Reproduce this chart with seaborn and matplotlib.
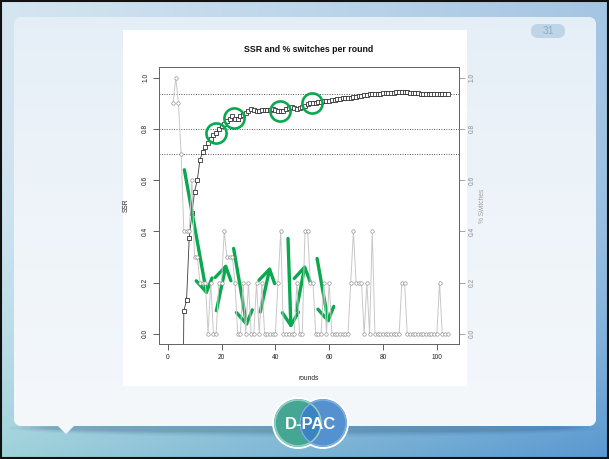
import numpy as np
import pandas as pd
import matplotlib
matplotlib.use("Agg")
import matplotlib.pyplot as plt
from matplotlib.patches import FancyBboxPatch, Rectangle, Polygon, Circle, Ellipse
import seaborn as sns

# ---------------------------------------------------------------- data
rounds = list(range(1, 105))

# scale separation reliability after each round (rounds 1-4 not computed)
ssr = [np.nan, np.nan, np.nan, np.nan, -1.2,
       0.09, 0.13, 0.375, 0.47, 0.555, 0.60, 0.68, 0.71, 0.73, 0.745,
       0.76, 0.775, 0.785, 0.80, 0.81, 0.82, 0.83, 0.84, 0.848, 0.838,
       0.84, 0.848, 0.855, 0.862, 0.87, 0.876, 0.874, 0.868, 0.87, 0.872,
       0.875, 0.872, 0.874, 0.878, 0.872, 0.868, 0.868, 0.87, 0.876, 0.88,
       0.884, 0.882, 0.878, 0.88, 0.886, 0.89, 0.896, 0.90, 0.902, 0.902,
       0.904, 0.906, 0.908, 0.908, 0.91, 0.912, 0.914, 0.916, 0.918, 0.92,
       0.92, 0.922, 0.922, 0.924, 0.926, 0.928, 0.928, 0.93, 0.932, 0.934,
       0.934, 0.936, 0.936, 0.937, 0.938, 0.938, 0.94, 0.94, 0.941, 0.942,
       0.943, 0.944, 0.944, 0.942, 0.94, 0.94, 0.938, 0.938, 0.937, 0.937,
       0.937, 0.937, 0.937, 0.937, 0.937, 0.937, 0.937, 0.937, 0.937]

# share of judgements that switched relative to the previous round
switches = [np.nan, 0.9, 1.0, 0.9, 0.7,
            0.4, 0.4, 0.4, 0.6, 0.3, 0.3, 0.2, 0.2, 0.2, 0.0,
            0.2, 0.0, 0.0, 0.2, 0.2, 0.4, 0.3, 0.3, 0.3, 0.2,
            0.0, 0.0, 0.2, 0.0, 0.2, 0.0, 0.0, 0.2, 0.0, 0.2,
            0.0, 0.0, 0.0, 0.0, 0.0, 0.2, 0.4, 0.0, 0.0, 0.0,
            0.0, 0.0, 0.2, 0.0, 0.0, 0.4, 0.4, 0.2, 0.2, 0.0,
            0.0, 0.0, 0.2, 0.0, 0.2, 0.0, 0.0, 0.0, 0.0, 0.0,
            0.0, 0.0, 0.2, 0.4, 0.2, 0.2, 0.2, 0.0, 0.2, 0.0,
            0.4, 0.0, 0.0, 0.0, 0.0, 0.0, 0.0, 0.0, 0.0, 0.0,
            0.0, 0.2, 0.2, 0.0, 0.0, 0.0, 0.0, 0.0, 0.0, 0.0,
            0.0, 0.0, 0.0, 0.0, 0.0, 0.2, 0.0, 0.0, 0.0]

reference_levels = [0.7, 0.8, 0.937]
x_ticks = [0, 20, 40, 60, 80, 100]
y_ticks = [0.0, 0.2, 0.4, 0.6, 0.8, 1.0]
y_ticklabels = ["0.0", "0.2", "0.4", "0.6", "0.8", "1.0"]

title = "SSR and % switches per round"
slide_number = "31"
logo_text = "D-PAC"

# highlighted rounds on the SSR curve and hand-drawn arrows on the switches
circled_rounds = [18, 24.5, 41.8, 53.7]
arrows = [((6.2, 0.64), (14.6, 0.15)), ((18.1, 0.09), (21.8, 0.275)),
          ((24.5, 0.333), (29.5, 0.026)), ((34.4, 0.085), (38.1, 0.264)),
          ((44.7, 0.372), (45.8, 0.02)), ((47.8, 0.091), (51.1, 0.272)),
          ((55.5, 0.294), (59.8, 0.039))]

df = pd.DataFrame({"round": rounds, "ssr": ssr, "switches": switches})

# ---------------------------------------------------------------- figure
W, H = 609, 459
sns.set_style("white")
plt.rcParams["font.family"] = ["Liberation Sans", "DejaVu Sans"]
fig = plt.figure(figsize=(W / 100, H / 100), dpi=100)

# slide background in pixel coordinates
bg = fig.add_axes([0, 0, 1, 1], zorder=0)
bg.set_xlim(0, W)
bg.set_ylim(H, 0)
bg.axis("off")


def hex2rgb(h):
    h = h.lstrip("#")
    return np.array([int(h[i:i + 2], 16) / 255 for i in (0, 2, 4)])


tx = np.linspace(0, 1, W)[None, :, None]
ty = np.linspace(0, 1, H)[:, None, None]
top = hex2rgb("#d5e6f1") * (1 - tx) + hex2rgb("#a4c5e3") * tx
bot = hex2rgb("#9fd2da") * (1 - tx) + hex2rgb("#5897cf") * tx
wy = ty ** 2.5
grad = top * (1 - wy) + bot * wy
bg.imshow(grad, extent=(0, W, H, 0), aspect="auto", zorder=0)

# soft shadow under the slide panel
for i, a in enumerate([0.05, 0.07, 0.09, 0.11]):
    bg.add_patch(Ellipse((305, 428), 590 - i * 20, 18 - i * 3,
                         color="#1d4f7a", alpha=a, lw=0, zorder=1))

panel = FancyBboxPatch((14, 17), 582, 409,
                       boxstyle="round,pad=0,rounding_size=8",
                       fc="#f3f7fa", ec="none", zorder=2)
bg.add_patch(panel)
pg = (hex2rgb("#e2edf6") * (1 - ty ** 0.6) + hex2rgb("#f5f8fb") * ty ** 0.6) * np.ones((1, W, 1))
im = bg.imshow(pg, extent=(0, W, H, 0), aspect="auto", zorder=2)
im.set_clip_path(panel)
bg.add_patch(Polygon([(57, 425), (75, 425), (66, 434)], closed=True,
                     fc="#f4f7fa", ec="none", zorder=2))

# page-number badge
bg.add_patch(FancyBboxPatch((531, 24), 34, 14,
                            boxstyle="round,pad=0,rounding_size=7",
                            fc="#bed4e7", ec="none", zorder=3))
bg.text(548, 31.5, slide_number, ha="center", va="center", fontsize=7.5,
        color="#93a9bc", zorder=4)

# white area behind the chart
bg.add_patch(Rectangle((123, 30), 344, 356, fc="white", ec="none", zorder=3))

# logo: two overlapping rings
for cx in (298, 323):
    bg.add_patch(Circle((cx, 423), 26, fc="white", ec="none", zorder=5))
bg.add_patch(Circle((298, 423), 24, fc="#45a693", ec="none", zorder=6))
bg.add_patch(Circle((323, 423), 24, fc="#3a7fc8", ec="none", alpha=0.86, zorder=7))
bg.add_patch(Circle((298, 423), 23, fc="none", ec="#8fd0c3", lw=1.2, zorder=7))
bg.add_patch(Circle((323, 423), 23, fc="none", ec="#7fb1e0", lw=1.0, zorder=7))
bg.text(311, 424.5, logo_text, ha="center", va="center", fontsize=12,
        fontweight="bold", color="white", zorder=8,
        family=["Liberation Sans", "DejaVu Sans"])

# black frame round the screenshot
bg.add_patch(Rectangle((0.8, 0.8), W - 1.6, H - 1.6, fc="none", ec="#111",
                       lw=1.5, zorder=9))

# ---------------------------------------------------------------- chart
left, right, topp, bottom = 159.3, 458.7, 67.3, 344.0
ax = fig.add_axes([left / W, (H - bottom) / H, (right - left) / W, (bottom - topp) / H],
                  zorder=2)
ax.patch.set_alpha(0)
ax2 = ax.twinx()
ax2.patch.set_alpha(0)

for lvl in reference_levels:
    ax.axhline(lvl, color="#555555", lw=0.7, ls=(0, (1, 1.5)), zorder=1)

sns.lineplot(data=df, x="round", y="switches", ax=ax2, color="#c8c8c8",
             lw=0.7, marker="o", ms=2.5, mfc="white", mec="#8a8a8a",
             mew=0.45, zorder=2)
sns.lineplot(data=df, x="round", y="ssr", ax=ax, color="#3a3a3a",
             lw=0.6, marker="s", ms=2.7, mfc="white", mec="#222222",
             mew=0.55, zorder=3)

for a in (ax, ax2):
    a.set_xlim(-3.12, 108.12)
    a.set_ylim(-0.04, 1.04)
    a.set_xlabel("")
    a.set_ylabel("")

green = "#0aa84f"
cy = np.interp(circled_rounds, df["round"][5:], df["ssr"][5:])
ax.plot(circled_rounds, cy, ls="none", marker="o", ms=14.5, mfc="none",
        mec=green, mew=1.9, zorder=6, clip_on=False)
for (x0, y0), (x1, y1) in arrows:
    ax.annotate("", xy=(x1, y1), xytext=(x0, y0),
                arrowprops=dict(arrowstyle="->,head_length=0.55,head_width=0.34",
                                mutation_scale=17, color=green, lw=2.4,
                                shrinkA=0, shrinkB=0),
                zorder=7)

ax.set_xticks(x_ticks)
ax.set_xticklabels([str(t) for t in x_ticks])
ax.set_yticks(y_ticks)
ax.set_yticklabels(y_ticklabels, rotation=90, va="center")
ax2.set_yticks(y_ticks)
ax2.set_yticklabels(y_ticklabels, rotation=90, va="center")

ax.tick_params(axis="both", which="major", direction="out", length=4.3,
               width=0.6, color="#444444", labelsize=4.8, labelcolor="#222222",
               pad=3, left=True, bottom=True)
ax2.tick_params(axis="y", direction="out", length=4.3, width=0.6,
                color="#9a9a9a", labelsize=4.8, labelcolor="#8c8c8c", pad=3,
                right=True)

for a in (ax, ax2):
    for s in a.spines.values():
        s.set_visible(True)
        s.set_color("#666666")
        s.set_linewidth(0.7)

ax.set_xlabel("rounds", fontsize=4.8, color="#222222")
ax.xaxis.set_label_coords(0.5, -0.112)
ax.set_ylabel("SSR", fontsize=4.8, color="#222222")
ax.yaxis.set_label_coords(-0.10, 0.5)
ax2.set_ylabel("% Switches", fontsize=4.8, color="#a0a0a0", rotation=90)
ax2.yaxis.set_label_coords(1.068, 0.5)

fig.text(308.8 / W, 1 - 50 / H, title, ha="center", va="center",
         fontsize=6.3, fontweight="bold", color="#111111", zorder=5)

fig.savefig("out.png", dpi=100)
